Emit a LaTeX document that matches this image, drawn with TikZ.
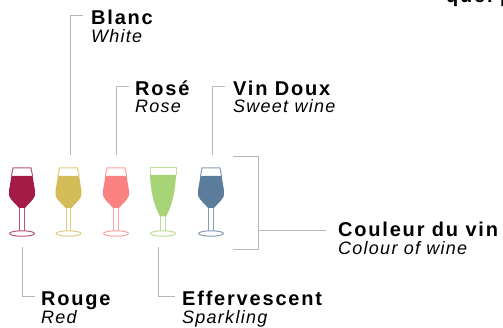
\documentclass[tikz,border=0pt]{standalone}
\usepackage{fontspec}
\setmainfont{Liberation Sans}
\newfontfamily\headfont[LetterSpace=9]{Liberation Sans}
\newfontfamily\subfont[LetterSpace=7]{Liberation Sans}
\usetikzlibrary{calc}
\definecolor{ruleg}{HTML}{B8B8B8}
\definecolor{wred}{HTML}{A31B46}
\definecolor{wyel}{HTML}{D4BC58}
\definecolor{wros}{HTML}{FB8280}
\definecolor{wgrn}{HTML}{A6D477}
\definecolor{wblu}{HTML}{5C7C9C}
\tikzset{
  x=1pt,y=-1pt,
  rule/.style={draw=ruleg,line width=0.95pt},
  head/.style={inner sep=0pt,anchor=base west,font=\headfont\bfseries\fontsize{20}{22}\selectfont,text=black},
  sub/.style={inner sep=0pt,anchor=base west,font=\subfont\itshape\fontsize{18}{20}\selectfont,text=black},
  wine/.pic={
    \fill[fill=#1] (-10.6,8) -- (10.6,8) -- (12.2,18) .. controls (13.2,22) and (13.2,26) .. (12.6,28.5) .. controls (10.5,33) and (6,36) .. (3,40) -- (-3,40) .. controls (-6,36) and (-10.5,33) .. (-12.6,28.5) .. controls (-13.2,26) and (-13.2,22) .. (-12.2,18) -- cycle;
    \draw[#1!75!white,line width=1pt] (-10.6,8) -- (-9,0) -- (9,0) -- (10.6,8);
    \draw[#1!75!white,line width=1pt] (-2.2,40) -- (-2.2,63) (2.2,40) -- (2.2,63);
    \draw[#1!75!white,line width=1pt] (0,65.5) ellipse (12.5 and 2.7);
  },
  flute/.pic={
    \fill[fill=#1] (-13,7) -- (13,7) .. controls (12.5,20) and (10,36) .. (3,48.5) -- (-3,48.5) .. controls (-10,36) and (-12.5,20) .. (-13,7) -- cycle;
    \draw[#1!75!white,line width=1pt] (-13,7) -- (-13,0) -- (13,0) -- (13,7);
    \draw[#1!75!white,line width=1pt] (-2.2,48.5) -- (-2.2,63) (2.2,48.5) -- (2.2,63);
    \draw[#1!75!white,line width=1pt] (0,65.5) ellipse (12.5 and 2.7);
  }
}
\begin{document}
\begin{tikzpicture}
\useasboundingbox (0,0) rectangle (503,328);
\clip (0,0) rectangle (503,328);
\fill[white] (0,0) rectangle (503,328);
% glasses
\path (22,168) pic {wine=wred};
\path (68.5,168) pic {wine=wyel};
\path (116,168) pic {wine=wros};
\path (163,168) pic {flute=wgrn};
\path (211,168) pic {wine=wblu};
% texts
\node[head] (top) at (446,3) {quel p};
\node[head] (blanc) at (91,25) {Blanc};
\node[sub] (white) at (91,42.5) {White};
\node[head] (rose) at (135,95.5) {Rosé};
\node[sub] (rosee) at (135,113) {Rose};
\node[head] (doux) at (233,95.5) {Vin Doux};
\node[sub] (sweet) at (233,113) {Sweet wine};
\node[head] (rouge) at (41,306) {Rouge};
\node[sub] (red) at (41,324) {Red};
\node[head] (eff) at (182,306) {Effervescent};
\node[sub] (spark) at (182,324) {Sparkling};
\node[head] (coul) at (338,236.5) {Couleur du vin};
\node[sub] (colour) at (338,255) {Colour of wine};
% connector ends
\coordinate (gb) at (70.5,155);
\coordinate (gr) at (116.5,155);
\coordinate (gd) at (212,155);
\coordinate (gro) at (22,247);
\coordinate (ge) at (158,247);
\coordinate (bt) at (233,156);
\coordinate (bb) at (233,249);
\coordinate (bm) at (258,230);
\draw[rule] (gb) -- (gb |- 0,15) -- (83,15);
\draw[rule] (gr) -- (gr |- 0,86) -- (129,86);
\draw[rule] (gd) -- (gd |- 0,86) -- (225,86);
\draw[rule] (gro) -- (gro |- 0,296) -- (35,296);
\draw[rule] (ge) -- (ge |- 0,296) -- (175,296);
\draw[rule] (bt) -- (258,156) -- (258,249) -- (bb);
\draw[rule] (bm) -- (326,230);
\end{tikzpicture}
\end{document}
